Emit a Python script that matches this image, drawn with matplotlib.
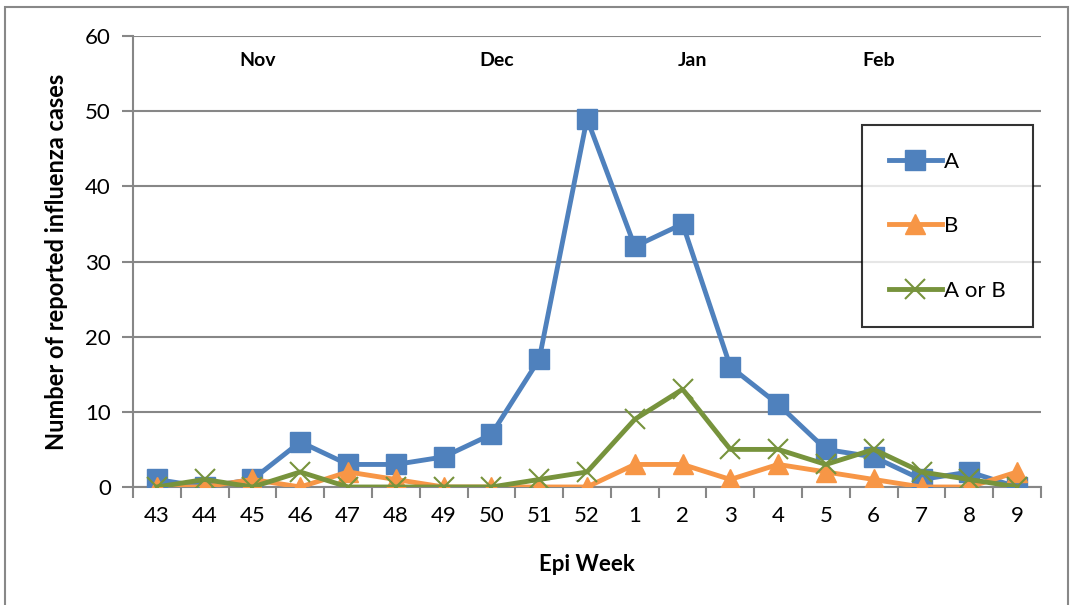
import matplotlib
matplotlib.use("Agg")
import matplotlib.pyplot as plt
from matplotlib.patches import Rectangle

weeks = ["43", "44", "45", "46", "47", "48", "49", "50", "51", "52",
         "1", "2", "3", "4", "5", "6", "7", "8", "9"]
series_a = [1, 0, 1, 6, 3, 3, 4, 7, 17, 49, 32, 35, 16, 11, 5, 4, 1, 2, 0]
series_b = [0, 0, 1, 0, 2, 1, 0, 0, 0, 0, 3, 3, 1, 3, 2, 1, 0, 0, 2]
series_ab = [0, 1, 0, 2, 0, 0, 0, 0, 1, 2, 9, 13, 5, 5, 3, 5, 2, 1, 0]
months = ["Nov", "Dec", "Jan", "Feb"]
month_pos = [2.1, 7.1, 11.2, 15.1]

plt.rcParams['font.family'] = ['Lato', 'DejaVu Sans']

fig = plt.figure(figsize=(10.73, 6.05), dpi=100)
ax = fig.add_axes([133/1073, 1-487/605, (1041-133)/1073, (487-36)/605])

x = list(range(len(weeks)))
blue = "#4F81BD"; orange = "#F79646"; green = "#77933C"
ax.plot(x, series_a, color=blue, lw=3.5, marker="s", ms=14, label="A", zorder=3)
ax.plot(x, series_b, color=orange, lw=3.5, marker="^", ms=15, label="B", zorder=4)
ax.plot(x, series_ab, color=green, lw=3.5, marker="x", ms=14, mew=1.5, label="A or B", zorder=5)

ax.set_xlim(-0.5, len(weeks) - 0.5)
ax.set_ylim(0, 60)
ax.set_yticks(range(0, 61, 10))
ax.set_xticks(x)
ax.set_xticklabels(weeks)
ax.set_xticks([i - 0.5 for i in range(len(weeks) + 1)], minor=True)
ax.tick_params(axis="x", which="major", length=0, pad=14, labelsize=16)
ax.tick_params(axis="x", which="minor", length=8, width=1.5, color="#878787", direction="out")
ax.tick_params(axis="y", length=8, width=1.5, color="#878787", pad=8, labelsize=16)
ax.grid(axis="y", color="#878787", lw=1.5)
ax.set_axisbelow(True)
for s in ["top", "right"]:
    ax.spines[s].set_visible(False)
for s in ["left", "bottom"]:
    ax.spines[s].set_color("#878787")
    ax.spines[s].set_linewidth(1.5)

ax.set_xlabel("Epi Week", fontsize=16, fontweight="bold", labelpad=20)
ax.set_ylabel("Number of reported influenza cases", fontsize=17, fontweight="bold", labelpad=12)

for m, p in zip(months, month_pos):
    ax.text(p, 56.8, m, ha="center", va="center", fontsize=14, fontweight="bold")

leg = ax.legend(loc="upper left", bbox_to_anchor=((862-133)/908, (487-125)/451),
                frameon=True, fancybox=False, edgecolor="black", fontsize=16,
                labelspacing=2.0, borderpad=1.2, handlelength=2.4, handletextpad=0.1,
                borderaxespad=0)
leg.get_frame().set_linewidth(1.5)

fig.patches.append(Rectangle((5/1073, -0.1), (1068-5)/1073, 1.1 - 7/605,
                             transform=fig.transFigure, fill=False,
                             edgecolor="#888888", lw=1.5, clip_on=False))

fig.savefig("out.png", dpi=100)
